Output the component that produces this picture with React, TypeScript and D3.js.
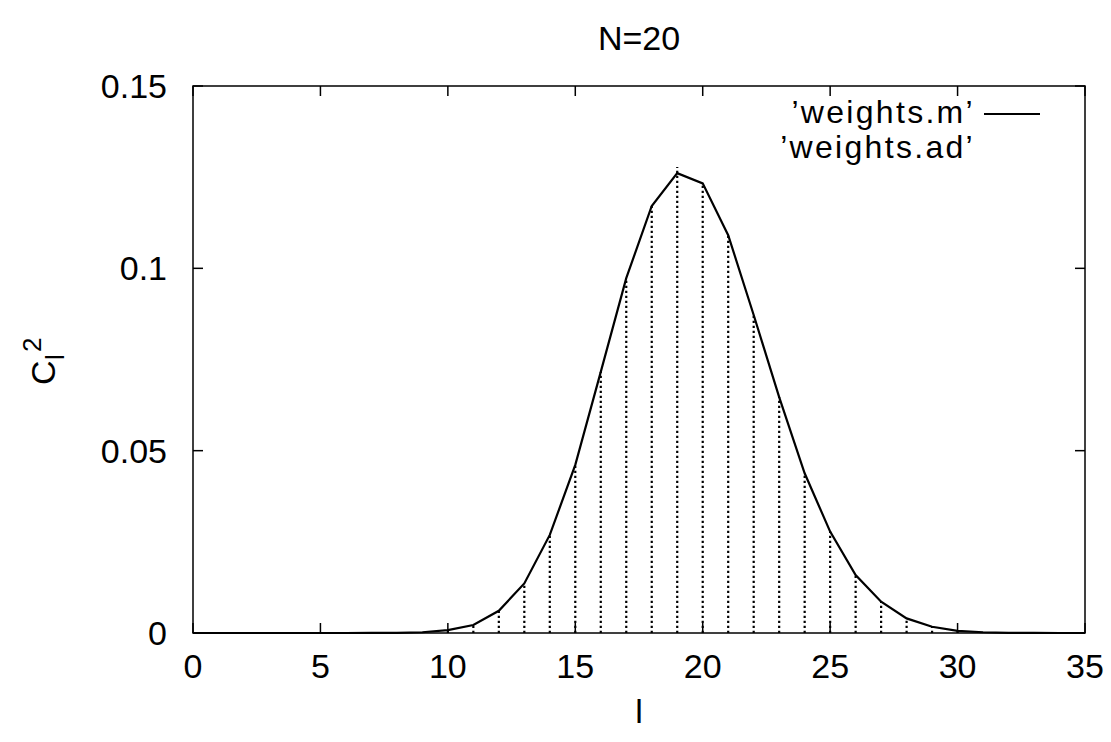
import React from "react";
import * as d3 from "d3";

const lValues = d3.range(0, 36);
const weightsM = [
  0, 0, 0, 0, 0, 0, 0, 0.00001, 0.00005, 0.0002,
  0.0008, 0.0022, 0.0061, 0.0136, 0.0269, 0.0461, 0.0716, 0.0973, 0.1171, 0.1261,
  0.1233, 0.1091, 0.0872, 0.0647, 0.0438, 0.0278, 0.0159, 0.0086, 0.0040, 0.0017,
  0.0006, 0.0002, 0.00005, 0.00001, 0, 0,
];
const weightsAd = [
  0, 0, 0, 0, 0, 0, 0, 0.00001, 0.00005, 0.0002,
  0.0008, 0.0022, 0.0061, 0.0136, 0.0269, 0.0461, 0.0716, 0.0973, 0.1171, 0.1278,
  0.1233, 0.1091, 0.0872, 0.0647, 0.0438, 0.0278, 0.0159, 0.0086, 0.0040, 0.0017,
  0.0006, 0.0002, 0.00005, 0.00001, 0, 0,
];
const xTicks = [0, 5, 10, 15, 20, 25, 30, 35];
const yTicks = [0, 0.05, 0.1, 0.15];
const yTickLabels = ["0", "0.05", "0.1", "0.15"];
const title = "N=20";
const legendLabels = ["\u2019weights.m\u2019", "\u2019weights.ad\u2019"];

export default function App() {
  const W = 1111, H = 742;
  const left = 193, right = 1085, top = 86, bottom = 633;
  const x = d3.scaleLinear().domain([0, 35]).range([left, right]);
  const y = d3.scaleLinear().domain([0, 0.15]).range([bottom, top]);
  const line = d3.line<number>().x((_, i) => x(lValues[i])).y((d) => y(d));
  const font = "'Liberation Sans', Arial, Helvetica, sans-serif";
  const fs = 34;
  const tick = 10;
  return (
    <svg width={W} height={H} style={{ position: "absolute", left: 0, top: 0, background: "#fff" }} fontFamily={font}>
      <rect x={0} y={0} width={W} height={H} fill="#fff" />
      {/* impulses */}
      {weightsAd.map((v, i) =>
        v > 0 ? (
          <line key={"imp" + i} x1={x(lValues[i])} x2={x(lValues[i])} y1={y(0)} y2={y(v)}
            stroke="#000" strokeWidth={2.2} strokeDasharray="2.2,2.8" />
        ) : null
      )}
      {/* frame */}
      <rect x={left} y={top} width={right - left} height={bottom - top} fill="none" stroke="#000" strokeWidth={1.5} />
      {/* ticks */}
      {xTicks.map((t) => (
        <g key={"xt" + t}>
          <line x1={x(t)} x2={x(t)} y1={bottom} y2={bottom - tick} stroke="#000" strokeWidth={1.5} />
          <line x1={x(t)} x2={x(t)} y1={top} y2={top + tick} stroke="#000" strokeWidth={1.5} />
          <text x={x(t)} y={678} textAnchor="middle" fontSize={fs}>{t}</text>
        </g>
      ))}
      {yTicks.map((t, i) => (
        <g key={"yt" + t}>
          <line x1={left} x2={left + tick} y1={y(t)} y2={y(t)} stroke="#000" strokeWidth={1.5} />
          <line x1={right} x2={right - tick} y1={y(t)} y2={y(t)} stroke="#000" strokeWidth={1.5} />
          <text x={167} y={y(t) + 12} textAnchor="end" fontSize={fs}>{yTickLabels[i]}</text>
        </g>
      ))}
      {/* data line */}
      <path d={line(weightsM) || ""} fill="none" stroke="#000" strokeWidth={2.2} strokeLinejoin="miter" />
      {/* title */}
      <text x={(left + right) / 2} y={50} textAnchor="middle" fontSize={fs}>{title}</text>
      {/* x label */}
      <text x={(left + right) / 2} y={723} textAnchor="middle" fontSize={fs}>l</text>
      {/* y label */}
      <g transform="translate(55,385) rotate(-90)">
        <text x={0} y={0} fontSize={fs}>C</text>
        <text x={25} y={9} fontSize={26}>l</text>
        <text x={33} y={-14} fontSize={26}>2</text>
      </g>
      {/* legend */}
      <text x={975} y={123} textAnchor="end" fontSize={32} letterSpacing={2.3}>{legendLabels[0]}</text>
      <line x1={984} x2={1040} y1={114} y2={114} stroke="#000" strokeWidth={2.2} />
      <text x={975} y={158} textAnchor="end" fontSize={32} letterSpacing={2.3}>{legendLabels[1]}</text>
    </svg>
  );
}
